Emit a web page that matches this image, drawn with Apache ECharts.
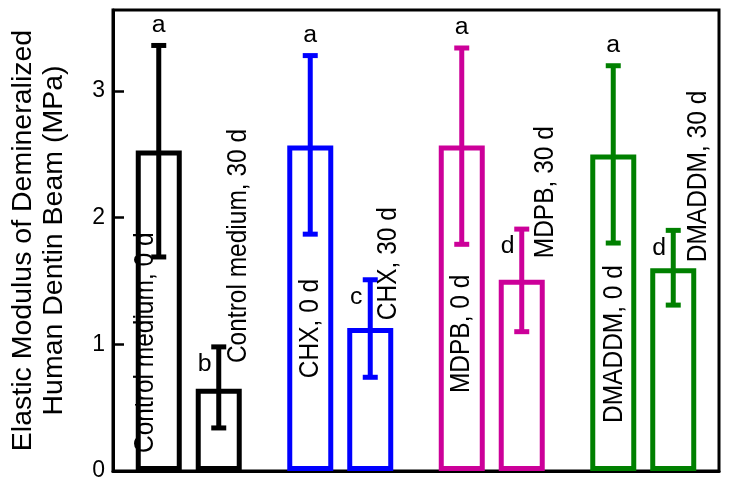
<!DOCTYPE html>
<html>
<head>
<meta charset="utf-8">
<script src="https://cdn.jsdelivr.net/npm/echarts@6/dist/echarts.min.js"></script>
<style>html,body{margin:0;padding:0;background:#fff;}#c{width:730px;height:486px;}</style>
</head>
<body>
<div id="c"></div>
<script>
// ---- data ----
const groups = ['Control medium', 'CHX', 'MDPB', 'DMADDM'];
const day0Mean = [2.53, 2.57, 2.57, 2.50];
const day0Low  = [1.69, 1.87, 1.79, 1.80];
const day0High = [3.36, 3.28, 3.34, 3.20];
const day30Mean = [0.65, 1.13, 1.51, 1.60];
const day30Low  = [0.34, 0.74, 1.10, 1.31];
const day30High = [0.98, 1.51, 1.91, 1.90];
const day0Letters = ['a', 'a', 'a', 'a'];
const day30Letters = ['b', 'c', 'd', 'd'];
const yTicks = [0, 1, 2, 3];

// ---- layout / style (not data) ----
const colors = ['#000000', '#0000ff', '#cc0099', '#008000'];
// per bar label: [pixel shift from bar centre, value at which the rotated text starts]
const label0Layout = [[-13, 0.142], [0, 0.733], [0, 0.615], [1, 0.379]];
const label30Layout = [[20, 0.852], [18, 1.191], [24, 1.68], [25, 1.648]];
const FONT = '"Liberation Sans", Arial, sans-serif';
const HALF = 30; // half distance between the two bars in a group (px)

const chart = echarts.init(document.getElementById('c'), null, {renderer: 'canvas'});

function barData(vals) {
  return vals.map((v, i) => ({
    value: v,
    itemStyle: {color: 'rgba(0,0,0,0)', borderColor: colors[i], borderWidth: 5}
  }));
}

const errData = [];
groups.forEach((g, i) => {
  errData.push([i, day0Low[i], day0High[i], -1, day0Letters[i]]);
  errData.push([i, day30Low[i], day30High[i], 1, day30Letters[i]]);
});
const txtData = [];
groups.forEach((g, i) => {
  txtData.push([i, label0Layout[i][1], -1, label0Layout[i][0], g + ', 0 d']);
  txtData.push([i, label30Layout[i][1], 1, label30Layout[i][0], g + ', 30 d']);
});

const option = {
  backgroundColor: '#ffffff',
  animation: false,
  grid: {left: 109, right: 11, top: 10, bottom: 15, show: true, borderColor: '#000', borderWidth: 3, containLabel: false},
  xAxis: {
    type: 'category', data: groups,
    axisLine: {show: true, lineStyle: {color: '#000', width: 3}},
    axisTick: {show: false}, axisLabel: {show: false}, splitLine: {show: false}
  },
  yAxis: {
    type: 'value', min: 0, max: 3.64, interval: 1,
    name: 'Elastic Modulus of Demineralized\nHuman Dentin Beam (MPa)',
    nameLocation: 'middle', nameGap: 43, nameRotate: 90,
    nameTextStyle: {fontFamily: FONT, fontSize: 28.5, lineHeight: 31, color: '#000'},
    axisLine: {show: true, lineStyle: {color: '#000', width: 3}},
    axisTick: {show: true, inside: true, length: 11, lineStyle: {color: '#000', width: 2.5}, customValues: yTicks},
    axisLabel: {fontFamily: FONT, fontSize: 23, color: '#000', margin: 8, customValues: yTicks},
    splitLine: {show: false}
  },
  series: [
    {type: 'bar', name: '0 d', data: barData(day0Mean), barWidth: 46, barGap: '30.4%', z: 2},
    {type: 'bar', name: '30 d', data: barData(day30Mean), barWidth: 46, barGap: '30.4%', z: 2},
    {
      type: 'custom', name: 'err', z: 5,
      encode: {x: 0, y: [1, 2]},
      data: errData,
      renderItem: function (params, api) {
        const cat = api.value(0), side = api.value(3);
        const lo = api.coord([cat, api.value(1)]);
        const hi = api.coord([cat, api.value(2)]);
        const x = lo[0] + side * HALF;
        const col = colors[cat];
        const cap = 7.5;
        const letter = errData[params.dataIndex][4];
        const ls = {stroke: col, lineWidth: 5};
        const tx = side < 0 ? x : x - 14;
        const ty = side < 0 ? hi[1] - 20 : hi[1] + 18;
        return {
          type: 'group',
          children: [
            {type: 'line', shape: {x1: x, y1: lo[1], x2: x, y2: hi[1]}, style: ls},
            {type: 'line', shape: {x1: x - cap, y1: lo[1], x2: x + cap, y2: lo[1]}, style: ls},
            {type: 'line', shape: {x1: x - cap, y1: hi[1], x2: x + cap, y2: hi[1]}, style: ls},
            {type: 'text', x: tx, y: ty, scaleX: 1.08, style: {text: letter, fill: '#000', font: '23px ' + FONT, align: 'center', verticalAlign: 'middle'}}
          ]
        };
      }
    },
    {
      type: 'custom', name: 'labels', z: 6,
      encode: {x: 0, y: 1},
      data: txtData,
      renderItem: function (params, api) {
        const cat = api.value(0), side = api.value(2), dx = api.value(3);
        const p = api.coord([cat, api.value(1)]);
        const x = p[0] + side * HALF + dx;
        return {
          type: 'text', x: x, y: p[1], rotation: Math.PI / 2, scaleY: 1.12,
          style: {text: txtData[params.dataIndex][4], fill: '#000', font: '24.5px ' + FONT, align: 'left', verticalAlign: 'middle'}
        };
      }
    }
  ]
};
chart.setOption(option);
</script>
</body>
</html>
